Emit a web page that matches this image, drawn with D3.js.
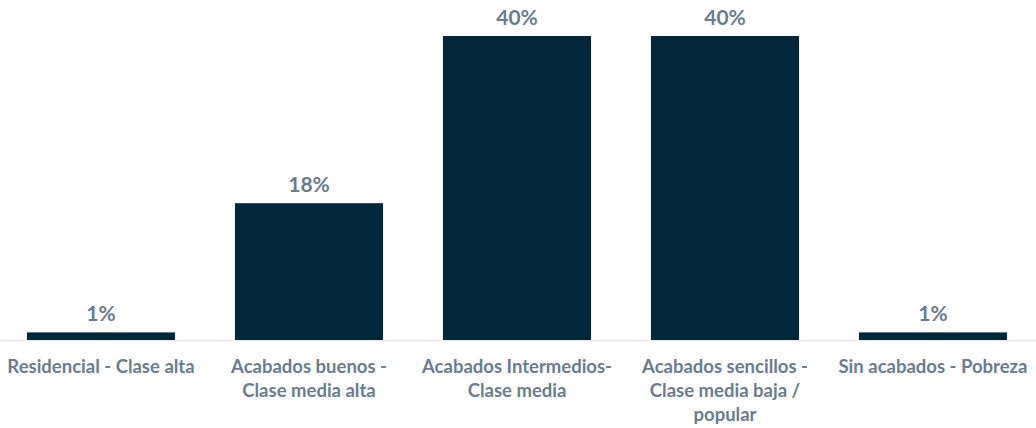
<!DOCTYPE html>
<html>
<head>
    <meta charset="utf-8">
    <style>
        body {
            margin: 0;
            background: #fff;
            font-family: Lato, 'Open Sans', Arial, sans-serif;
        }
        svg {
            display: block;
        }
    </style>
</head>
<body>
    <svg width="1036" height="428"></svg>

<script src="https://d3js.org/d3.v7.min.js"></script>
<script>
    // chart data
    let categories = [
        "Residencial - Clase alta",
        "Acabados buenos -\nClase media alta",
        "Acabados Intermedios-\nClase media",
        "Acabados sencillos -\nClase media baja /\npopular",
        "Sin acabados - Pobreza"
    ]
    let values = [1, 18, 40, 40, 1]

    let width = 1036
    let height = 428
    let baseline = 340
    let svg = d3.select("svg")

    let x = d3.scaleBand()
        .domain(categories)
        .range([-3, 1037])
        .paddingInner(0.288)
        .paddingOuter(0.144)

    let y = d3.scaleLinear()
        .domain([0, 40])
        .range([baseline, 36])

    // baseline
    svg.append("line")
        .attr("x1", 0)
        .attr("x2", width)
        .attr("y1", baseline + 0.5)
        .attr("y2", baseline + 0.5)
        .attr("stroke", "#e6e8ee")
        .attr("stroke-width", 1.5)

    svg.append("g")
        .selectAll("rect")
        .data(values)
        .join("rect")
        .attr("x", (d, i) => x(categories[i]))
        .attr("width", x.bandwidth())
        .attr("y", d => y(d))
        .attr("height", d => baseline - y(d))
        .attr("fill", "#02263a")

    // value labels
    svg.append("g")
        .selectAll("text")
        .data(values)
        .join("text")
        .attr("x", (d, i) => x(categories[i]) + x.bandwidth() / 2)
        .attr("y", d => y(d) - 11)
        .attr("text-anchor", "middle")
        .attr("font-size", "21px")
        .attr("font-weight", 700)
        .attr("fill", "#6a7c8f")
        .text(d => d + "%")

    // category labels
    let labels = svg.append("g")
        .selectAll("text")
        .data(categories)
        .join("text")
        .attr("text-anchor", "middle")
        .attr("font-size", "18.5px")
        .attr("font-weight", 700)
        .attr("fill", "#6a7c8f")
        .attr("transform", d => `translate(${x(d) + x.bandwidth() / 2},373)`)

    labels.selectAll("tspan")
        .data(d => d.split("\n"))
        .join("tspan")
        .attr("x", 0)
        .attr("y", (d, i) => i * 24)
        .text(d => d)
</script>
</body>
</html>
